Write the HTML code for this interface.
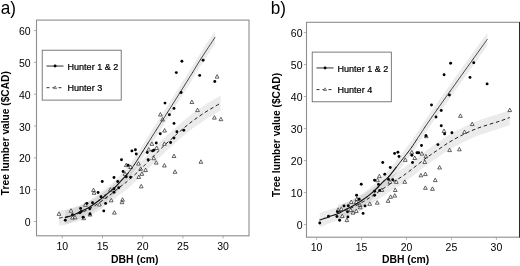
<!DOCTYPE html>
<html><head><meta charset="utf-8"><title>Tree lumber value vs DBH</title>
<style>
html,body{margin:0;padding:0;background:#fff;}
body{width:520px;height:266px;overflow:hidden;font-family:"Liberation Sans", sans-serif;}
svg{display:block;will-change:transform;font-family:"Liberation Sans", sans-serif;fill:#000;}
</style></head><body>
<svg width="520" height="266" viewBox="0 0 520 266">
<rect width="520" height="266" fill="#fff"/>
<g id="panel-a">
<path d="M59,210.5 C60.17,210.32 63.33,209.97 66,209.4 C68.67,208.83 71.83,208.08 75,207.1 C78.17,206.12 81.67,205 85,203.5 C88.33,202 91.53,200.27 95,198.1 C98.47,195.93 103.09,192.43 105.8,190.5 C108.51,188.57 108.9,188.33 111.25,186.5 C113.6,184.67 117.61,181.28 119.9,179.5 C122.19,177.72 122.52,177.85 125,175.8 C127.48,173.75 132.2,169.55 134.8,167.2 C137.4,164.85 138.83,163.42 140.6,161.7 C142.37,159.98 143,159.33 145.4,156.9 C147.8,154.47 151.73,150.37 155,147.1 C158.27,143.83 161.88,140.23 165,137.3 C168.12,134.37 171.67,131.38 173.75,129.5 C175.83,127.62 174.79,128.33 177.5,126 C180.21,123.67 185.62,118.88 190,115.5 C194.38,112.12 198.65,109.02 203.75,105.7 C208.85,102.38 217.79,97.28 220.6,95.6 L220.6,110.6 C217.79,112.28 208.85,117.38 203.75,120.7 C198.65,124.02 194.38,127.12 190,130.5 C185.62,133.88 180.21,138.67 177.5,141 C174.79,143.33 175.83,142.62 173.75,144.5 C171.67,146.38 168.12,149.37 165,152.3 C161.88,155.23 158.27,158.83 155,162.1 C151.73,165.37 147.8,169.47 145.4,171.9 C143,174.33 142.37,174.98 140.6,176.7 C138.83,178.42 137.4,179.85 134.8,182.2 C132.2,184.55 127.48,188.75 125,190.8 C122.52,192.85 122.19,192.72 119.9,194.5 C117.61,196.28 113.6,199.67 111.25,201.5 C108.9,203.33 108.51,203.57 105.8,205.5 C103.09,207.43 98.47,210.93 95,213.1 C91.53,215.27 88.33,217 85,218.5 C81.67,220 78.17,221.12 75,222.1 C71.83,223.08 68.67,223.83 66,224.4 C63.33,224.97 60.17,225.32 59,225.5 Z" fill="#000" fill-opacity="0.077"/>
<path d="M65.3,210.4 C66.62,210.07 70.58,209.35 73.2,208.4 C75.82,207.45 78.1,206.13 81,204.7 C83.9,203.27 87.52,201.67 90.6,199.8 C93.68,197.93 96.9,195.45 99.5,193.5 C102.1,191.55 103.67,190.18 106.2,188.1 C108.73,186.02 112.18,183.37 114.7,181 C117.22,178.63 119.1,176.28 121.3,173.9 C123.5,171.52 125.7,169.38 127.9,166.7 C130.1,164.02 132.07,161.38 134.5,157.8 C136.93,154.22 140.22,148.8 142.5,145.2 C144.78,141.6 145.9,139.85 148.2,136.2 C150.5,132.55 153.08,128.37 156.3,123.3 C159.52,118.23 163.62,111.92 167.5,105.8 C171.38,99.68 175.43,93.23 179.6,86.6 C183.77,79.97 189,71.65 192.5,66 C196,60.35 196.85,58.57 200.6,52.7 C204.35,46.83 212.6,34.45 215,30.8 L215,44 C212.6,47.65 204.35,60.03 200.6,65.9 C196.85,71.77 196,73.55 192.5,79.2 C189,84.85 183.77,93.17 179.6,99.8 C175.43,106.43 171.38,112.88 167.5,119 C163.62,125.12 159.52,131.43 156.3,136.5 C153.08,141.57 150.5,145.75 148.2,149.4 C145.9,153.05 144.78,154.8 142.5,158.4 C140.22,162 136.93,167.42 134.5,171 C132.07,174.58 130.1,177.22 127.9,179.9 C125.7,182.58 123.5,184.72 121.3,187.1 C119.1,189.48 117.22,191.83 114.7,194.2 C112.18,196.57 108.73,199.22 106.2,201.3 C103.67,203.38 102.1,204.75 99.5,206.7 C96.9,208.65 93.68,211.13 90.6,213 C87.52,214.87 83.9,216.47 81,217.9 C78.1,219.33 75.82,220.45 73.2,221.6 C70.58,222.75 66.62,224.27 65.3,224.8 Z" fill="#000" fill-opacity="0.077"/>
<path d="M59,211.87 L60.88,215.35 L57.12,215.35 Z M71,208.72 L72.88,212.2 L69.12,212.2 Z M72.5,215.62 L74.38,219.1 L70.62,219.1 Z M75,215.32 L76.88,218.8 L73.12,218.8 Z M83.75,216.22 L85.63,219.7 L81.87,219.7 Z M90,212.52 L91.88,216 L88.12,216 Z M85.4,202.87 L87.28,206.35 L83.52,206.35 Z M99.4,202.52 L101.28,206 L97.52,206 Z M111.25,198.37 L113.13,201.85 L109.37,201.85 Z M114.4,210.62 L116.28,214.1 L112.52,214.1 Z M105,194.62 L106.88,198.1 L103.12,198.1 Z M93.5,188.12 L95.38,191.6 L91.62,191.6 Z M94.1,190.82 L95.98,194.3 L92.22,194.3 Z M110.4,187.72 L112.28,191.2 L108.52,191.2 Z M175,169.82 L176.88,173.3 L173.12,173.3 Z M200.9,159.82 L202.78,163.3 L199.02,163.3 Z M122.6,197.72 L124.48,201.2 L120.72,201.2 Z M122,200.22 L123.88,203.7 L120.12,203.7 Z M145.6,168.12 L147.48,171.6 L143.72,171.6 Z M141.9,171.87 L143.78,175.35 L140.02,175.35 Z M138.75,175.02 L140.63,178.5 L136.87,178.5 Z M141.25,184.37 L143.13,187.85 L139.37,187.85 Z M140.6,166.87 L142.48,170.35 L138.72,170.35 Z M130.6,165.02 L132.48,168.5 L128.72,168.5 Z M125,171.87 L126.88,175.35 L123.12,175.35 Z M151.9,141.87 L153.78,145.35 L150.02,145.35 Z M156.6,146.02 L158.48,149.5 L154.72,149.5 Z M148.75,147.52 L150.63,151 L146.87,151 Z M153.75,156.22 L155.63,159.7 L151.87,159.7 Z M156.25,160.62 L158.13,164.1 L154.37,164.1 Z M164.4,163.52 L166.28,167 L162.52,167 Z M174,154.02 L175.88,157.5 L172.12,157.5 Z M138.5,161.62 L140.38,165.1 L136.62,165.1 Z M126.25,163.12 L128.13,166.6 L124.37,166.6 Z M164.4,141.87 L166.28,145.35 L162.52,145.35 Z M160.4,112.52 L162.28,116 L158.52,116 Z M162.5,117.52 L164.38,121 L160.62,121 Z M164.6,128.52 L166.48,132 L162.72,132 Z M197.5,108.12 L199.38,111.6 L195.62,111.6 Z M217.1,74.62 L218.98,78.1 L215.22,78.1 Z M191.9,100.02 L193.78,103.5 L190.02,103.5 Z M214.4,115.62 L216.28,119.1 L212.52,119.1 Z M220.9,117.22 L222.78,120.7 L219.02,120.7 Z" fill="#fff" stroke="#383838" stroke-width="0.78" stroke-linejoin="miter"/>
<g fill="#000"><circle cx="65.25" cy="220.3" r="1.45"/><circle cx="72.5" cy="214.7" r="1.45"/><circle cx="80.6" cy="208.4" r="1.45"/><circle cx="81.25" cy="211.55" r="1.45"/><circle cx="80" cy="212.8" r="1.45"/><circle cx="83.1" cy="217.2" r="1.45"/><circle cx="86.9" cy="203.4" r="1.45"/><circle cx="92.5" cy="202.8" r="1.45"/><circle cx="89.75" cy="208.8" r="1.45"/><circle cx="90" cy="214.05" r="1.45"/><circle cx="103.75" cy="210.9" r="1.45"/><circle cx="105.6" cy="203.4" r="1.45"/><circle cx="101" cy="196.8" r="1.45"/><circle cx="102.25" cy="181.55" r="1.45"/><circle cx="114" cy="177.55" r="1.45"/><circle cx="123.1" cy="171.55" r="1.45"/><circle cx="117.75" cy="181.55" r="1.45"/><circle cx="118.75" cy="187.8" r="1.45"/><circle cx="114" cy="188.8" r="1.45"/><circle cx="114" cy="192.2" r="1.45"/><circle cx="98.1" cy="192.55" r="1.45"/><circle cx="126.25" cy="176.8" r="1.45"/><circle cx="130.6" cy="177.2" r="1.45"/><circle cx="156.25" cy="143.05" r="1.45"/><circle cx="170.6" cy="142.55" r="1.45"/><circle cx="131.9" cy="150.9" r="1.45"/><circle cx="135.4" cy="149.7" r="1.45"/><circle cx="136.25" cy="154.05" r="1.45"/><circle cx="121.5" cy="159.7" r="1.45"/><circle cx="147.25" cy="152.55" r="1.45"/><circle cx="152.5" cy="150.9" r="1.45"/><circle cx="153.75" cy="150.3" r="1.45"/><circle cx="148.1" cy="159.7" r="1.45"/><circle cx="128.1" cy="165.3" r="1.45"/><circle cx="174" cy="108.4" r="1.45"/><circle cx="169.4" cy="114.7" r="1.45"/><circle cx="174" cy="123.4" r="1.45"/><circle cx="176.9" cy="131.8" r="1.45"/><circle cx="183.75" cy="130.3" r="1.45"/><circle cx="160.25" cy="133.8" r="1.45"/><circle cx="174" cy="138.05" r="1.45"/><circle cx="181.9" cy="61.3" r="1.45"/><circle cx="203.1" cy="60.2" r="1.45"/><circle cx="176.3" cy="72.6" r="1.45"/><circle cx="199.7" cy="75.4" r="1.45"/><circle cx="214.8" cy="81.5" r="1.45"/><circle cx="181.1" cy="92.5" r="1.45"/><circle cx="165" cy="103.1" r="1.45"/></g>
<g fill="none" stroke="#111" stroke-linecap="round"><path d="M65.3,217.6 C66.62,217.17 70.58,216.05 73.2,215" stroke-width="1.2"/><path d="M73.2,215 C75.82,213.95 78.1,212.73 81,211.3" stroke-width="1.2"/><path d="M81,211.3 C83.9,209.87 87.52,208.27 90.6,206.4" stroke-width="1.2"/><path d="M90.6,206.4 C93.68,204.53 96.9,202.05 99.5,200.1" stroke-width="1.2"/><path d="M99.5,200.1 C102.1,198.15 103.67,196.78 106.2,194.7" stroke-width="1.1"/><path d="M106.2,194.7 C108.73,192.62 112.18,189.97 114.7,187.6" stroke-width="1.1"/><path d="M114.7,187.6 C117.22,185.23 119.1,182.88 121.3,180.5" stroke-width="1.1"/><path d="M121.3,180.5 C123.5,178.12 125.7,175.98 127.9,173.3" stroke-width="1.1"/><path d="M127.9,173.3 C130.1,170.62 132.07,167.98 134.5,164.4" stroke-width="0.95"/><path d="M134.5,164.4 C136.93,160.82 140.22,155.4 142.5,151.8" stroke-width="0.95"/><path d="M142.5,151.8 C144.78,148.2 145.9,146.45 148.2,142.8" stroke-width="0.95"/><path d="M148.2,142.8 C150.5,139.15 153.08,134.97 156.3,129.9" stroke-width="0.75"/><path d="M156.3,129.9 C159.52,124.83 163.62,118.52 167.5,112.4" stroke-width="0.75"/><path d="M167.5,112.4 C171.38,106.28 175.43,99.83 179.6,93.2" stroke-width="0.75"/><path d="M179.6,93.2 C183.77,86.57 189,78.25 192.5,72.6" stroke-width="0.75"/><path d="M192.5,72.6 C196,66.95 196.85,65.17 200.6,59.3" stroke-width="0.75"/><path d="M200.6,59.3 C204.35,53.43 212.6,41.05 215,37.4" stroke-width="0.75"/></g>
<path d="M59,218 C60.17,217.82 63.33,217.47 66,216.9 C68.67,216.33 71.83,215.58 75,214.6 C78.17,213.62 81.67,212.5 85,211 C88.33,209.5 91.53,207.77 95,205.6 C98.47,203.43 103.09,199.93 105.8,198 C108.51,196.07 108.9,195.83 111.25,194 C113.6,192.17 117.61,188.78 119.9,187 C122.19,185.22 122.52,185.35 125,183.3 C127.48,181.25 132.2,177.05 134.8,174.7 C137.4,172.35 138.83,170.92 140.6,169.2 C142.37,167.48 143,166.83 145.4,164.4 C147.8,161.97 151.73,157.87 155,154.6 C158.27,151.33 161.88,147.73 165,144.8 C168.12,141.87 171.67,138.88 173.75,137 C175.83,135.12 174.79,135.83 177.5,133.5 C180.21,131.17 185.62,126.38 190,123 C194.38,119.62 198.65,116.52 203.75,113.2 C208.85,109.88 217.79,104.78 220.6,103.1" fill="none" stroke="#1c1c1c" stroke-width="0.98" stroke-dasharray="3.6,2.7"/>
<rect x="36.5" y="20.1" width="212.5" height="215.7" fill="none" stroke="#8e8e8e" stroke-width="1.1"/>
<text x="62.3" y="249.8" text-anchor="middle" font-size="10.5">10</text>
<text x="102.5" y="249.8" text-anchor="middle" font-size="10.5">15</text>
<text x="142.7" y="249.8" text-anchor="middle" font-size="10.5">20</text>
<text x="182.9" y="249.8" text-anchor="middle" font-size="10.5">25</text>
<text x="223.1" y="249.8" text-anchor="middle" font-size="10.5">30</text>
<text x="30.6" y="226" text-anchor="end" font-size="10.5">0</text>
<text x="30.6" y="194.17" text-anchor="end" font-size="10.5">10</text>
<text x="30.6" y="162.34" text-anchor="end" font-size="10.5">20</text>
<text x="30.6" y="130.51" text-anchor="end" font-size="10.5">30</text>
<text x="30.6" y="98.68" text-anchor="end" font-size="10.5">40</text>
<text x="30.6" y="66.85" text-anchor="end" font-size="10.5">50</text>
<text x="30.6" y="35.02" text-anchor="end" font-size="10.5">60</text>
<path d="M62.3,235.8 v2.6 M102.5,235.8 v2.6 M142.7,235.8 v2.6 M182.9,235.8 v2.6 M223.1,235.8 v2.6 M36.5,221.5 h-2.6 M36.5,189.67 h-2.6 M36.5,157.84 h-2.6 M36.5,126.01 h-2.6 M36.5,94.18 h-2.6 M36.5,62.35 h-2.6 M36.5,30.52 h-2.6" stroke="#9a9a9a" stroke-width="0.8" fill="none"/>
<text x="134.75" y="262.7" text-anchor="middle" font-size="10.4" font-weight="bold">DBH (cm)</text>
<text transform="translate(8.9,133.15) rotate(-90)" text-anchor="middle" font-size="10.2" font-weight="bold">Tree lumber value ($CAD)</text>
<text transform="translate(0.75,13.55) scale(0.955,1)" font-size="18">a)</text>
<rect x="42.2" y="50.2" width="79" height="49.9" fill="#fff" stroke="#5a5a5a" stroke-width="0.8"/>
<path d="M46.5,66.05 h17" stroke="#333" stroke-width="1"/>
<circle cx="55.1" cy="66.05" r="1.45" fill="#000"/>
<path d="M46.5,87.7 h17" stroke="#333" stroke-width="1" stroke-dasharray="3,3"/>
<path d="M55.1,85.95 L56.55,88.63 L53.65,88.63 Z" fill="#fff" stroke="#444" stroke-width="0.7"/>
<text x="67.5" y="69.7" font-size="9.05" stroke="#000" stroke-width="0.22">Hunter 1 &amp; 2</text>
<text x="67.5" y="90.95" font-size="9.05" stroke="#000" stroke-width="0.22">Hunter 3</text>
</g>
<g id="panel-b">
<path d="M338,204.5 C340,203.92 345.71,202.77 350,201 C354.29,199.23 360,196.03 363.75,193.9 C367.5,191.78 369.17,190.44 372.5,188.25 C375.83,186.06 380.21,183.12 383.75,180.75 C387.29,178.38 391.04,175.74 393.75,174 C396.46,172.26 397.5,171.95 400,170.3 C402.5,168.65 404.58,167.25 408.75,164.1 C412.92,160.95 420.11,155.05 425,151.4 C429.89,147.75 433.93,145.06 438.1,142.2 C442.27,139.34 445.93,136.72 450,134.25 C454.07,131.78 458.33,129.48 462.5,127.4 C466.67,125.32 470.83,123.42 475,121.75 C479.17,120.08 483.33,118.76 487.5,117.4 C491.67,116.04 496.29,114.83 500,113.6 C503.71,112.37 508.12,110.6 509.75,110 L509.75,125 C508.12,125.6 503.71,127.37 500,128.6 C496.29,129.83 491.67,131.04 487.5,132.4 C483.33,133.76 479.17,135.08 475,136.75 C470.83,138.42 466.67,140.32 462.5,142.4 C458.33,144.48 454.07,146.78 450,149.25 C445.93,151.72 442.27,154.34 438.1,157.2 C433.93,160.06 429.89,162.75 425,166.4 C420.11,170.05 412.92,175.95 408.75,179.1 C404.58,182.25 402.5,183.65 400,185.3 C397.5,186.95 396.46,187.26 393.75,189 C391.04,190.74 387.29,193.38 383.75,195.75 C380.21,198.12 375.83,201.06 372.5,203.25 C369.17,205.44 367.5,206.78 363.75,208.9 C360,211.03 354.29,214.23 350,216 C345.71,217.77 340,218.92 338,219.5 Z" fill="#000" fill-opacity="0.077"/>
<path d="M319.75,212.8 C320.59,212.52 323.21,211.55 324.8,211.1 C326.39,210.65 327.62,210.6 329.3,210.1 C330.98,209.6 333.03,208.82 334.9,208.1 C336.77,207.38 338.62,206.7 340.5,205.8 C342.38,204.9 344.32,203.68 346.2,202.7 C348.08,201.72 350.12,200.82 351.8,199.9 C353.48,198.98 354.72,198.15 356.3,197.2 C357.88,196.25 359.53,195.35 361.3,194.2 C363.07,193.05 365.03,191.72 366.9,190.3 C368.77,188.88 370.62,187.35 372.5,185.7 C374.38,184.05 376.32,182.25 378.2,180.4 C380.08,178.55 382.12,176.25 383.8,174.6 C385.48,172.95 387.17,171.62 388.3,170.5 C389.43,169.38 389.27,169.55 390.6,167.9 C391.93,166.25 394.42,163.02 396.3,160.6 C398.18,158.18 400.03,155.78 401.9,153.4 C403.77,151.02 405.82,148.5 407.5,146.3 C409.18,144.1 410.5,142.35 412,140.2 C413.5,138.05 414.33,136.7 416.5,133.4 C418.67,130.1 421.5,125.57 425,120.4 C428.5,115.23 433.33,108.33 437.5,102.4 C441.67,96.47 444.07,93.12 450,84.8 C455.93,76.48 466.89,61.17 473.1,52.5 C479.31,43.83 484.89,36.08 487.25,32.8 L487.25,46 C484.89,49.28 479.31,57.03 473.1,65.7 C466.89,74.37 455.93,89.68 450,98 C444.07,106.32 441.67,109.67 437.5,115.6 C433.33,121.53 428.5,128.43 425,133.6 C421.5,138.77 418.67,143.3 416.5,146.6 C414.33,149.9 413.5,151.25 412,153.4 C410.5,155.55 409.18,157.3 407.5,159.5 C405.82,161.7 403.77,164.22 401.9,166.6 C400.03,168.98 398.18,171.38 396.3,173.8 C394.42,176.22 391.93,179.45 390.6,181.1 C389.27,182.75 389.43,182.58 388.3,183.7 C387.17,184.82 385.48,186.15 383.8,187.8 C382.12,189.45 380.08,191.75 378.2,193.6 C376.32,195.45 374.38,197.25 372.5,198.9 C370.62,200.55 368.77,202.08 366.9,203.5 C365.03,204.92 363.07,206.25 361.3,207.4 C359.53,208.55 357.88,209.45 356.3,210.4 C354.72,211.35 353.48,212.18 351.8,213.1 C350.12,214.02 348.08,214.92 346.2,215.9 C344.32,216.88 342.38,218.1 340.5,219 C338.62,219.9 336.77,220.58 334.9,221.3 C333.03,222.02 330.98,222.6 329.3,223.3 C327.62,224 326.39,224.85 324.8,225.5 C323.21,226.15 320.59,226.92 319.75,227.2 Z" fill="#000" fill-opacity="0.077"/>
<path d="M342.25,214.12 L344.13,217.6 L340.37,217.6 Z M346.9,218.12 L348.78,221.6 L345.02,221.6 Z M338.1,207.87 L339.98,211.35 L336.22,211.35 Z M341.25,207.12 L343.13,210.6 L339.37,210.6 Z M350.6,208.12 L352.48,211.6 L348.72,211.6 Z M353.1,210.62 L354.98,214.1 L351.22,214.1 Z M356.25,209.12 L358.13,212.6 L354.37,212.6 Z M360,203.12 L361.88,206.6 L358.12,206.6 Z M360.25,205.37 L362.13,208.85 L358.37,208.85 Z M369.75,201.87 L371.63,205.35 L367.87,205.35 Z M351.25,200.02 L353.13,203.5 L349.37,203.5 Z M379.4,174.22 L381.28,177.7 L377.52,177.7 Z M377.5,178.22 L379.38,181.7 L375.62,181.7 Z M396.25,179.87 L398.13,183.35 L394.37,183.35 Z M404.75,179.87 L406.63,183.35 L402.87,183.35 Z M390,179.87 L391.88,183.35 L388.12,183.35 Z M381.9,188.02 L383.78,191.5 L380.02,191.5 Z M395.25,188.02 L397.13,191.5 L393.37,191.5 Z M394.75,193.62 L396.63,197.1 L392.87,197.1 Z M390.6,194.87 L392.48,198.35 L388.72,198.35 Z M388.1,198.87 L389.98,202.35 L386.22,202.35 Z M377.25,200.72 L379.13,204.2 L375.37,204.2 Z M356.9,197.02 L358.78,200.5 L355.02,200.5 Z M356.25,200.12 L358.13,203.6 L354.37,203.6 Z M421.9,151.62 L423.78,155.1 L420.02,155.1 Z M425.9,154.37 L427.78,157.85 L424.02,157.85 Z M414.75,156.02 L416.63,159.5 L412.87,159.5 Z M405.25,157.87 L407.13,161.35 L403.37,161.35 Z M424.75,160.02 L426.63,163.5 L422.87,163.5 Z M411.8,150.42 L413.68,153.9 L409.92,153.9 Z M460.4,113.87 L462.28,117.35 L458.52,117.35 Z M444,129.02 L445.88,132.5 L442.12,132.5 Z M426.25,134.22 L428.13,137.7 L424.37,137.7 Z M464.5,130.02 L466.38,133.5 L462.62,133.5 Z M509.75,108.12 L511.63,111.6 L507.87,111.6 Z M472.2,122.12 L474.08,125.6 L470.32,125.6 Z M459.4,147.37 L461.28,150.85 L457.52,150.85 Z M449.6,148.12 L451.48,151.6 L447.72,151.6 Z M439.6,165.52 L441.48,169 L437.72,169 Z M425.4,172.12 L427.28,175.6 L423.52,175.6 Z M420.9,173.37 L422.78,176.85 L419.02,176.85 Z M435.25,178.12 L437.13,181.6 L433.37,181.6 Z M425.4,185.87 L427.28,189.35 L423.52,189.35 Z M432.5,186.87 L434.38,190.35 L430.62,190.35 Z" fill="#fff" stroke="#383838" stroke-width="0.78" stroke-linejoin="miter"/>
<g fill="#000"><circle cx="319.75" cy="223.05" r="1.45"/><circle cx="328.5" cy="216.3" r="1.45"/><circle cx="336.9" cy="216.55" r="1.45"/><circle cx="337.5" cy="211.8" r="1.45"/><circle cx="339.6" cy="220.3" r="1.45"/><circle cx="344" cy="205.9" r="1.45"/><circle cx="347.5" cy="211.8" r="1.45"/><circle cx="347.9" cy="216.9" r="1.45"/><circle cx="363.1" cy="213.4" r="1.45"/><circle cx="365" cy="205.9" r="1.45"/><circle cx="348.3" cy="205.8" r="1.45"/><circle cx="361.25" cy="184.2" r="1.45"/><circle cx="384.75" cy="174.2" r="1.45"/><circle cx="374.6" cy="180.2" r="1.45"/><circle cx="378.5" cy="184.4" r="1.45"/><circle cx="388.5" cy="179.4" r="1.45"/><circle cx="392.75" cy="179.8" r="1.45"/><circle cx="374.6" cy="191.3" r="1.45"/><circle cx="379.75" cy="190.4" r="1.45"/><circle cx="374.6" cy="195.2" r="1.45"/><circle cx="356.6" cy="195.2" r="1.45"/><circle cx="359.1" cy="199.2" r="1.45"/><circle cx="421.5" cy="145.55" r="1.45"/><circle cx="437.9" cy="144.6" r="1.45"/><circle cx="394.6" cy="153.4" r="1.45"/><circle cx="397.9" cy="152.2" r="1.45"/><circle cx="399" cy="156.55" r="1.45"/><circle cx="382.75" cy="162.55" r="1.45"/><circle cx="390.25" cy="167.55" r="1.45"/><circle cx="411.9" cy="155.3" r="1.45"/><circle cx="412.5" cy="162.55" r="1.45"/><circle cx="417" cy="152.8" r="1.45"/><circle cx="418.75" cy="152.8" r="1.45"/><circle cx="441.25" cy="110.55" r="1.45"/><circle cx="436" cy="117.05" r="1.45"/><circle cx="441.25" cy="125.8" r="1.45"/><circle cx="444.6" cy="133.9" r="1.45"/><circle cx="451.9" cy="132.7" r="1.45"/><circle cx="425.9" cy="135.8" r="1.45"/><circle cx="450.6" cy="63.3" r="1.45"/><circle cx="473.75" cy="62.7" r="1.45"/><circle cx="444.1" cy="74.8" r="1.45"/><circle cx="470" cy="77.4" r="1.45"/><circle cx="487.1" cy="83.9" r="1.45"/><circle cx="449.4" cy="95.05" r="1.45"/><circle cx="431.5" cy="105.05" r="1.45"/></g>
<g fill="none" stroke="#111" stroke-linecap="round"><path d="M319.75,220 C320.59,219.72 323.21,218.85 324.8,218.3" stroke-width="1.1"/><path d="M324.8,218.3 C326.39,217.75 327.62,217.3 329.3,216.7" stroke-width="1.1"/><path d="M329.3,216.7 C330.98,216.1 333.03,215.42 334.9,214.7" stroke-width="1.1"/><path d="M334.9,214.7 C336.77,213.98 338.62,213.3 340.5,212.4" stroke-width="1.1"/><path d="M340.5,212.4 C342.38,211.5 344.32,210.28 346.2,209.3" stroke-width="1.1"/><path d="M346.2,209.3 C348.08,208.32 350.12,207.42 351.8,206.5" stroke-width="1.1"/><path d="M351.8,206.5 C353.48,205.58 354.72,204.75 356.3,203.8" stroke-width="1.1"/><path d="M356.3,203.8 C357.88,202.85 359.53,201.95 361.3,200.8" stroke-width="1.1"/><path d="M361.3,200.8 C363.07,199.65 365.03,198.32 366.9,196.9" stroke-width="1.1"/><path d="M366.9,196.9 C368.77,195.48 370.62,193.95 372.5,192.3" stroke-width="1.1"/><path d="M372.5,192.3 C374.38,190.65 376.32,188.85 378.2,187" stroke-width="1.1"/><path d="M378.2,187 C380.08,185.15 382.12,182.85 383.8,181.2" stroke-width="1.1"/><path d="M383.8,181.2 C385.48,179.55 387.17,178.22 388.3,177.1" stroke-width="1.1"/><path d="M388.3,177.1 C389.43,175.98 389.27,176.15 390.6,174.5" stroke-width="1.1"/><path d="M390.6,174.5 C391.93,172.85 394.42,169.62 396.3,167.2" stroke-width="1.1"/><path d="M396.3,167.2 C398.18,164.78 400.03,162.38 401.9,160" stroke-width="0.9"/><path d="M401.9,160 C403.77,157.62 405.82,155.1 407.5,152.9" stroke-width="0.9"/><path d="M407.5,152.9 C409.18,150.7 410.5,148.95 412,146.8" stroke-width="0.9"/><path d="M412,146.8 C413.5,144.65 414.33,143.3 416.5,140" stroke-width="0.9"/><path d="M416.5,140 C418.67,136.7 421.5,132.17 425,127" stroke-width="0.75"/><path d="M425,127 C428.5,121.83 433.33,114.93 437.5,109" stroke-width="0.75"/><path d="M437.5,109 C441.67,103.07 444.07,99.72 450,91.4" stroke-width="0.75"/><path d="M450,91.4 C455.93,83.08 466.89,67.77 473.1,59.1" stroke-width="0.75"/><path d="M473.1,59.1 C479.31,50.43 484.89,42.68 487.25,39.4" stroke-width="0.75"/></g>
<path d="M338,212 C340,211.42 345.71,210.27 350,208.5 C354.29,206.73 360,203.53 363.75,201.4 C367.5,199.28 369.17,197.94 372.5,195.75 C375.83,193.56 380.21,190.62 383.75,188.25 C387.29,185.88 391.04,183.24 393.75,181.5 C396.46,179.76 397.5,179.45 400,177.8 C402.5,176.15 404.58,174.75 408.75,171.6 C412.92,168.45 420.11,162.55 425,158.9 C429.89,155.25 433.93,152.56 438.1,149.7 C442.27,146.84 445.93,144.22 450,141.75 C454.07,139.28 458.33,136.98 462.5,134.9 C466.67,132.82 470.83,130.92 475,129.25 C479.17,127.58 483.33,126.26 487.5,124.9 C491.67,123.54 496.29,122.33 500,121.1 C503.71,119.87 508.12,118.1 509.75,117.5" fill="none" stroke="#1c1c1c" stroke-width="0.98" stroke-dasharray="3.6,2.7"/>
<rect x="306.5" y="22.3" width="213" height="214.9" fill="none" stroke="#8e8e8e" stroke-width="1.1"/>
<text x="316.6" y="251.2" text-anchor="middle" font-size="10.5">10</text>
<text x="361.55" y="251.2" text-anchor="middle" font-size="10.5">15</text>
<text x="406.5" y="251.2" text-anchor="middle" font-size="10.5">20</text>
<text x="451.45" y="251.2" text-anchor="middle" font-size="10.5">25</text>
<text x="496.4" y="251.2" text-anchor="middle" font-size="10.5">30</text>
<text x="302.5" y="229" text-anchor="end" font-size="10.5">0</text>
<text x="302.5" y="197" text-anchor="end" font-size="10.5">10</text>
<text x="302.5" y="165" text-anchor="end" font-size="10.5">20</text>
<text x="302.5" y="133" text-anchor="end" font-size="10.5">30</text>
<text x="302.5" y="101" text-anchor="end" font-size="10.5">40</text>
<text x="302.5" y="69" text-anchor="end" font-size="10.5">50</text>
<text x="302.5" y="37" text-anchor="end" font-size="10.5">60</text>
<path d="M316.6,237.2 v2.6 M361.55,237.2 v2.6 M406.5,237.2 v2.6 M451.45,237.2 v2.6 M496.4,237.2 v2.6 M306.5,224.5 h-2.6 M306.5,192.5 h-2.6 M306.5,160.5 h-2.6 M306.5,128.5 h-2.6 M306.5,96.5 h-2.6 M306.5,64.5 h-2.6 M306.5,32.5 h-2.6" stroke="#9a9a9a" stroke-width="0.8" fill="none"/>
<text x="405.6" y="262.7" text-anchor="middle" font-size="10.4" font-weight="bold">DBH (cm)</text>
<text transform="translate(279.6,134.95) rotate(-90)" text-anchor="middle" font-size="10.2" font-weight="bold">Tree lumber value ($CAD)</text>
<text transform="translate(270.8,13.55) scale(0.955,1)" font-size="18">b)</text>
<rect x="312.2" y="52.1" width="79.1" height="49.7" fill="#fff" stroke="#5a5a5a" stroke-width="0.8"/>
<path d="M316.5,67.95 h17" stroke="#333" stroke-width="1"/>
<circle cx="325.1" cy="67.95" r="1.45" fill="#000"/>
<path d="M316.5,89.6 h17" stroke="#333" stroke-width="1" stroke-dasharray="3,3"/>
<path d="M325.1,87.85 L326.55,90.53 L323.65,90.53 Z" fill="#fff" stroke="#444" stroke-width="0.7"/>
<text x="337.5" y="71.6" font-size="9.05" stroke="#000" stroke-width="0.22">Hunter 1 &amp; 2</text>
<text x="337.5" y="92.85" font-size="9.05" stroke="#000" stroke-width="0.22">Hunter 4</text>
<path d="M519.5,22 V237.5" stroke="#2a2a2a" stroke-width="1"/>
</g>
</svg>
</body></html>
